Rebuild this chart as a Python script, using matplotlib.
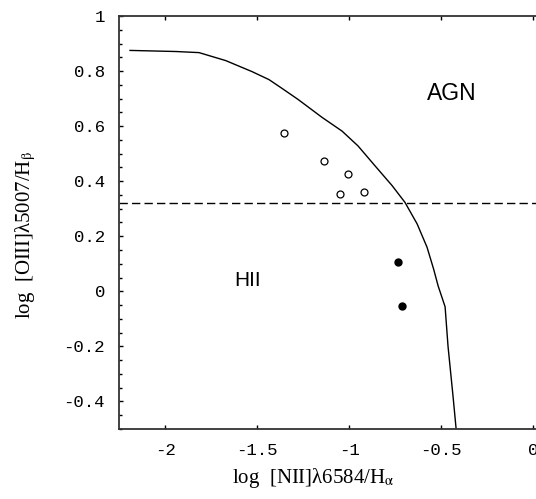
import matplotlib.pyplot as plt
from matplotlib.ticker import MultipleLocator

# curva de separacao HII / AGN
curva_x = [-2.19, -1.94, -1.815, -1.67, -1.527, -1.435, -1.364, -1.277, -1.147,
           -1.038, -0.951, -0.859, -0.766, -0.696, -0.63, -0.576, -0.54,
           -0.516, -0.478, -0.462, -0.435, -0.418]
curva_y = [0.875, 0.871, 0.867, 0.838, 0.798, 0.769, 0.737, 0.697, 0.632,
           0.582, 0.528, 0.456, 0.384, 0.323, 0.245, 0.160, 0.08,
           0.02, -0.056, -0.200, -0.380, -0.50]

# linha horizontal tracejada
nivel_y = 0.322

# pontos abertos e cheios
abertos_x = [-1.353, -1.136, -1.005, -1.049, -0.918]
abertos_y = [0.575, 0.474, 0.425, 0.352, 0.361]
cheios_x = [-0.734, -0.712]
cheios_y = [0.107, -0.052]

xticks = [-2, -1.5, -1, -0.5, 0]
xlabels = ['-2', '-1.5', '-1', '-0.5', '0']
yticks = [-0.4, -0.2, 0, 0.2, 0.4, 0.6, 0.8, 1]
ylabels = ['-0.4', '-0.2', '0', '0.2', '0.4', '0.6', '0.8', '1']

plt.rcParams['mathtext.fontset'] = 'stix'

fig = plt.figure(figsize=(5.36, 4.99), dpi=100)
ax = fig.add_axes([119 / 536, 1 - 429 / 499, 1 - 119 / 536, 413 / 499])

ax.plot(curva_x, curva_y, color='black', lw=1.0)
ax.axhline(nivel_y, color='black', lw=1.0, dashes=(6, 3))
ax.plot(abertos_x, abertos_y, 'o', ms=5, mfc='white', mec='black', mew=0.9)
ax.plot(cheios_x, cheios_y, 'o', ms=5, color='black')

ax.text(-0.44, 0.717, 'AGN', fontsize=16.5, family='Liberation Sans',
        ha='center', va='center')
ax.text(-1.549, 0.04, 'HII', fontsize=15, family='Liberation Sans',
        ha='center', va='center')

ax.set_xlim(-2.25, 0.016)
ax.set_ylim(-0.5, 1.0)

ax.set_xticks(xticks)
ax.set_xticklabels(xlabels, family='Liberation Mono', fontsize=12.5)
ax.set_yticks(yticks)
ax.set_yticklabels(ylabels, family='Liberation Mono', fontsize=12.5)
ax.yaxis.set_minor_locator(MultipleLocator(0.05))

ax.tick_params(which='both', direction='in', top=True, right=False,
               width=1.0, colors='black')
ax.tick_params(which='major', length=3)
ax.tick_params(which='minor', length=2.5)
ax.tick_params(axis='x', pad=10)
ax.tick_params(axis='y', pad=10)

for lado in ['left', 'bottom', 'top']:
    ax.spines[lado].set_linewidth(1.3)
    ax.spines[lado].set_color('#333333')
ax.spines['right'].set_visible(False)

ax.set_xlabel(r'log  [NII]λ6584/H$_\mathrm{α}$', fontsize=15,
              family='Liberation Serif')
ax.set_ylabel(r'log  [OIII]λ5007/H$_\mathrm{β}$', fontsize=15,
              family='Liberation Serif')
ax.xaxis.set_label_coords(0.465, -0.119)
ax.yaxis.set_label_coords(-0.223, 0.47)
ax.xaxis.label.set_va('center')
ax.yaxis.label.set_va('center')

fig.savefig('out.png', dpi=100)
